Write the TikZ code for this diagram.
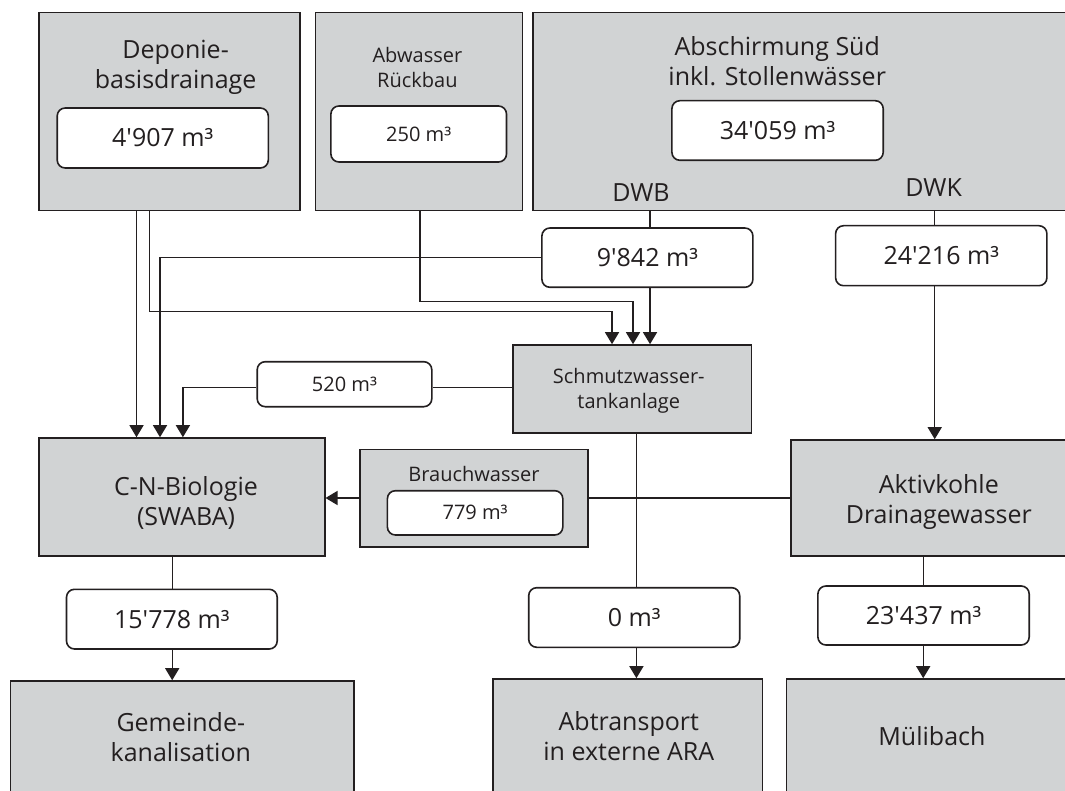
\documentclass[tikz,border=0pt]{standalone}
\usepackage{fontspec}
\newfontfamily\osans{Open Sans}
\usetikzlibrary{arrows.meta}
\definecolor{ink}{HTML}{231F20}
\definecolor{boxgray}{HTML}{D1D3D4}
\tikzset{
  graybox/.style={rectangle, draw=ink, fill=boxgray, line width=1.6pt, inner sep=0pt},
  valbox/.style={rectangle, draw=ink, fill=white, rounded corners=8pt, line width=1.6pt, inner sep=0pt, text=ink},
  bigtxt/.style={font=\osans\fontsize{25}{30}\selectfont, text=ink, inner sep=0pt, align=center},
  smalltxt/.style={font=\osans\fontsize{20}{25}\selectfont, text=ink, inner sep=0pt, align=center},
  flow/.style={draw=ink, line width=1.4pt},
  arr/.style={flow, -{Triangle[width=14pt,length=12pt]}}
}
\begin{document}
\begin{tikzpicture}[x=1pt,y=-1pt]
\useasboundingbox (0,0) rectangle (1065,791);
\clip (0,0) rectangle (1065,791);
\fill[white] (0,0) rectangle (1065,791);

% --- gray boxes ---
\node[graybox, minimum width=261pt, minimum height=198pt] (dep) at (169.4,111.7) {};
\node[graybox, minimum width=207pt, minimum height=198pt] (abw) at (418.9,111.7) {};
\node[graybox, minimum width=552pt, minimum height=198pt] (abs) at (809,111.7) {};
\node[graybox, minimum width=238.4pt, minimum height=87.7pt] (sch) at (632.3,388.85) {};
\node[graybox, minimum width=285.8pt, minimum height=118pt] (cn) at (181.8,497) {};
\node[graybox, minimum width=228pt, minimum height=97.4pt] (brw) at (473.8,498) {};
\node[graybox, minimum width=294pt, minimum height=116pt] (akt) at (938,498) {};
\node[graybox, minimum width=343.4pt, minimum height=129pt] (gem) at (182,745.5) {};
\node[graybox, minimum width=269.6pt, minimum height=131pt] (abt) at (627.5,744.5) {};
\node[graybox, minimum width=298.4pt, minimum height=131pt] (mul) at (935.8,744.5) {};

% --- box titles ---
\node[bigtxt] (depT) at (175.6,67.5) {Deponie-\\basisdrainage};
\node[smalltxt] (abwT) at (417.4,67.8) {Abwasser\\Rückbau};
\node[bigtxt] (absT) at (777.2,61.3) {Abschirmung Süd\\inkl. Stollenwässer};
\node[bigtxt] (dwb) at (641,192.8) {DWB};
\node[bigtxt] (dwk) at (933.6,187.2) {DWK};
\node[smalltxt] (schT) at (628.8,390.5) {Schmutzwasser-\\tankanlage};
\node[bigtxt] (cnT) at (186,503.3) {C-N-Biologie\\(SWABA)};
\node[smalltxt, anchor=base] (brwT) at (474,481.7) {Brauchwasser};
\node[bigtxt] (aktT) at (938.8,502.2) {Aktivkohle\\Drainagewasser};
\node[bigtxt] (gemT) at (180.8,737.5) {Gemeinde-\\kanalisation};
\node[bigtxt] (abtT) at (628.8,736.2) {Abtransport\\in externe ARA};
\node[bigtxt, anchor=base] (mulT) at (931.9,745) {Mülibach};

% --- value boxes ---
\node[valbox, font=\osans\fontsize{25}{30}\selectfont, minimum width=211.1pt, minimum height=60pt] (depv) at (162.75,138) {4'907 m³};
\node[valbox, font=\osans\fontsize{20}{25}\selectfont, minimum width=175.6pt, minimum height=56pt] (abwv) at (418.7,134) {250 m³};
\node[valbox, font=\osans\fontsize{25}{30}\selectfont, minimum width=211.3pt, minimum height=59.6pt] (absv) at (777.55,130.5) {34'059 m³};
\node[valbox, font=\osans\fontsize{25}{30}\selectfont, minimum width=211pt, minimum height=59.3pt] (v9842) at (647.4,257.65) {9'842 m³};
\node[valbox, font=\osans\fontsize{25}{30}\selectfont, minimum width=211.3pt, minimum height=60pt] (v24216) at (941.25,255.7) {24'216 m³};
\node[valbox, font=\osans\fontsize{20}{25}\selectfont, minimum width=174.6pt, minimum height=45pt] (v520) at (344.5,384.2) {520 m³};
\node[valbox, font=\osans\fontsize{20}{25}\selectfont, minimum width=175.4pt, minimum height=44.3pt] (brwv) at (475.1,512.85) {779 m³};
\node[valbox, font=\osans\fontsize{25}{30}\selectfont, minimum width=210.7pt, minimum height=59.7pt] (v15778) at (171.85,619.15) {15'778 m³};
\node[valbox, font=\osans\fontsize{25}{30}\selectfont, minimum width=211pt, minimum height=59.6pt] (v0) at (634.2,617.5) {0 m³};
\node[valbox, font=\osans\fontsize{25}{30}\selectfont, minimum width=211.3pt, minimum height=59pt] (v23437) at (923.55,615.5) {23'437 m³};

% --- routing coordinates ---
\coordinate (c1) at (136.5,0);
\coordinate (c2) at (149.4,0);
\coordinate (k1) at (612,311.7);
\coordinate (k2) at (633,301.7);
\coordinate (k3) at (650,0);
\coordinate (k4) at (160,257.65);
\coordinate (k5) at (934.7,0);
\coordinate (k6) at (182.9,387.7);
\coordinate (k7) at (636.4,0);
\coordinate (k8) at (172.2,0);
\coordinate (k9) at (923.2,0);
\coordinate (c3) at (419.8,0);

% --- connectors ---
\draw[arr] (dep.south -| c1) -- (cn.north -| c1);
\draw[arr] (dep.south -| c2) |- (k1) -- (sch.north -| k1);
\draw[arr] (abw.south -| c3) |- (k2) -- (sch.north -| k2);
\draw[flow] (abs.south -| k3) -- (v9842.north -| k3);
\draw[arr] (v9842.south -| k3) -- (sch.north -| k3);
\draw[arr] (v9842.west) -- (k4) -- (cn.north -| k4);
\draw[flow] (abs.south -| k5) -- (v24216.north -| k5);
\draw[arr] (v24216.south -| k5) -- (akt.north -| k5);
\draw[flow] (sch.west |- k6) -- (v520.east |- k6);
\draw[arr] (v520.west |- k6) -| (cn.north -| k6);
\draw[flow] (akt.west) -- (brw.east);
\draw[arr] (brw.west) -- (cn.east |- brw.west);
\draw[flow] (sch.south -| k7) -- (v0.north -| k7);
\draw[arr] (v0.south -| k7) -- (abt.north -| k7);
\draw[flow] (cn.south -| k8) -- (v15778.north -| k8);
\draw[arr] (v15778.south -| k8) -- (gem.north -| k8);
\draw[flow] (akt.south -| k9) -- (v23437.north -| k9);
\draw[arr] (v23437.south -| k9) -- (mul.north -| k9);
\end{tikzpicture}
\end{document}
